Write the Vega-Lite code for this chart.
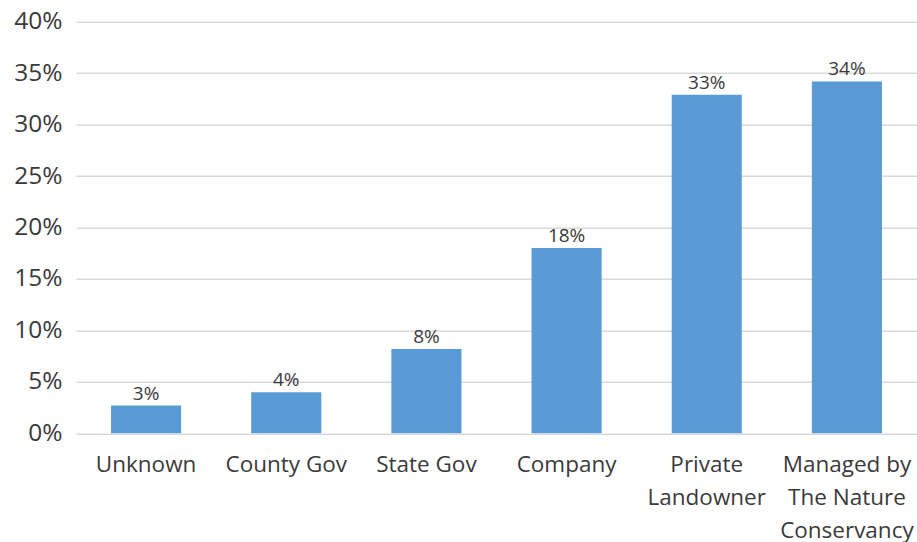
{
  "$schema": "https://vega.github.io/schema/vega-lite/v6.json",
  "width": 841,
  "height": 411.6,
  "autosize": "none",
  "padding": {"left": 76, "top": 21.7, "right": 0, "bottom": 109},
  "background": "white",
  "config": {"view": {"stroke": null}, "font": "Open Sans"},
  "data": {
    "values": [
      {"owner": "Unknown", "share": 0.027},
      {"owner": "County Gov", "share": 0.040},
      {"owner": "State Gov", "share": 0.082},
      {"owner": "Company", "share": 0.180},
      {"owner": "Private Landowner", "share": 0.329},
      {"owner": "Managed by The Nature Conservancy", "share": 0.342}
    ]
  },
  "encoding": {
    "x": {
      "field": "owner",
      "type": "nominal",
      "sort": null,
      "scale": {"paddingInner": 0.5, "paddingOuter": 0.25},
      "axis": {
        "title": null,
        "domain": false,
        "ticks": false,
        "labelAngle": 0,
        "labelFont": "Open Sans",
        "labelFontSize": 22.5,
        "labelColor": "#3A3A3A",
        "labelPadding": 20,
        "labelLineHeight": 33,
        "labelBaseline": "top",
        "labelExpr": "datum.value == 'Private Landowner' ? ['Private', 'Landowner'] : datum.value == 'Managed by The Nature Conservancy' ? ['Managed by', 'The Nature', 'Conservancy'] : datum.label"
      }
    },
    "y": {
      "field": "share",
      "type": "quantitative",
      "scale": {"domain": [0, 0.4], "nice": false},
      "axis": {
        "title": null,
        "format": ".0%",
        "values": [0, 0.05, 0.1, 0.15, 0.2, 0.25, 0.3, 0.35, 0.4],
        "domain": false,
        "ticks": false,
        "grid": true,
        "gridColor": "#D9D9D9",
        "gridWidth": 1.5,
        "labelFont": "Open Sans",
        "labelFontSize": 24.5,
        "labelColor": "#3A3A3A",
        "labelPadding": 14
      }
    }
  },
  "layer": [
    {"mark": {"type": "bar", "color": "#5B9BD5"}},
    {
      "mark": {"type": "text", "baseline": "alphabetic", "dy": -6, "fontSize": 19, "color": "#3A3A3A", "font": "Open Sans"},
      "encoding": {"text": {"field": "share", "type": "quantitative", "format": ".0%"}}
    }
  ]
}
